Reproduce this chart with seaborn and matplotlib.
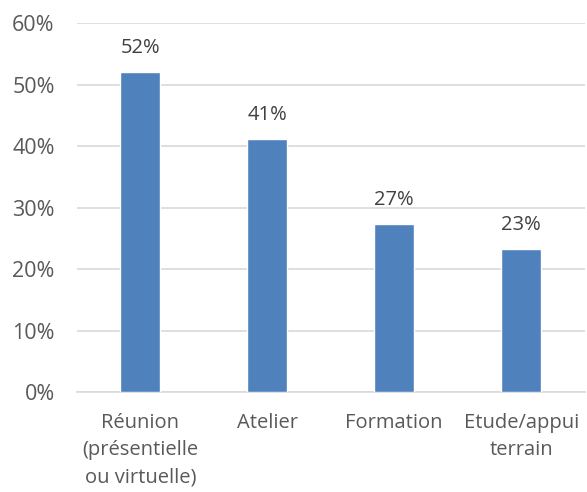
import matplotlib
matplotlib.use("Agg")
import matplotlib.pyplot as plt
import seaborn as sns
import pandas as pd
from matplotlib.ticker import PercentFormatter

# data
categories = ["Réunion\n(présentielle\nou virtuelle)", "Atelier", "Formation", "Etude/appui\nterrain"]
values = [52.0, 41.1, 27.4, 23.3]
labels = ["52%", "41%", "27%", "23%"]

sns.set_style("white")
plt.rcParams['font.family'] = ['Open Sans', 'DejaVu Sans']

df = pd.DataFrame({"cat": categories, "val": values})

fig = plt.figure(figsize=(5.87, 4.92), dpi=100)
ax = fig.add_axes([0.131, 0.203, 0.865, 0.75])

sns.barplot(data=df, x="cat", y="val", color="#4F81BD", width=0.315,
            saturation=1, ax=ax, zorder=3)

ax.set_ylim(0, 60)
ax.set_xlim(-0.5, 3.5)
ax.set_yticks(range(0, 61, 10))
ax.yaxis.set_major_formatter(PercentFormatter(decimals=0))
ax.grid(axis="y", color="#D9D9D9", linewidth=1.2, zorder=0)
ax.set_xlabel("")
ax.set_ylabel("")

for side in ["top", "right", "left"]:
    ax.spines[side].set_visible(False)
ax.spines["bottom"].set_color("#D9D9D9")
ax.spines["bottom"].set_linewidth(1.2)

ax.tick_params(axis="both", length=0, labelsize=14.5, colors="#595959")
ax.tick_params(axis="y", pad=16, labelsize=15.5)
ax.tick_params(axis="x", pad=15)
for t in ax.get_xticklabels():
    t.set_linespacing(1.5)

for i, (v, lab) in enumerate(zip(values, labels)):
    ax.text(i, v + 3.9, lab, ha="center", va="center", fontsize=14.5, color="#404040")

fig.savefig("out.png", dpi=100)
